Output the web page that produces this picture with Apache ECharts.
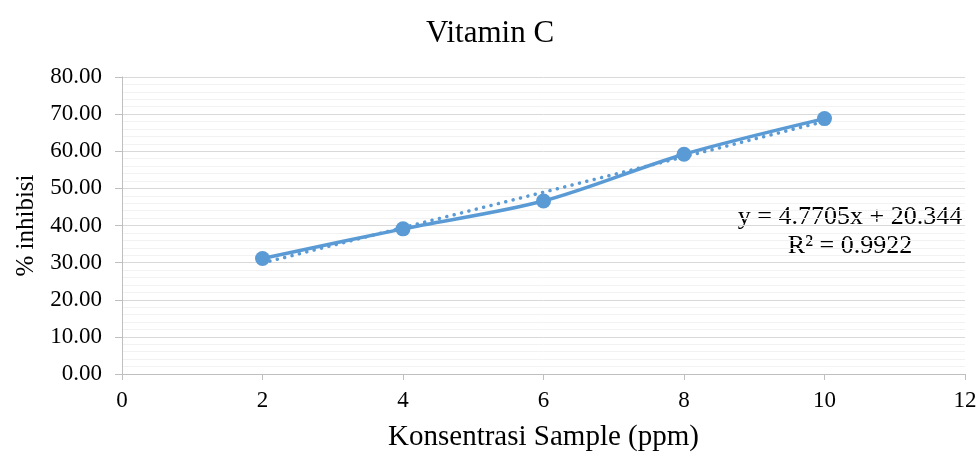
<!DOCTYPE html>
<html><head><meta charset="utf-8">
<script src="https://cdn.jsdelivr.net/npm/echarts@6/dist/echarts.min.js"></script>
<style>html,body{margin:0;padding:0;background:#fff}#c{width:980px;height:457px}</style>
</head><body><div id="c"></div>
<script>
var concentrations = [2, 4, 6, 8, 10];
var inhibition = [31.1, 39.1, 46.6, 59.2, 68.8];
var trendX = [2, 10];
var trendY = [29.89, 68.05];
var equationText = 'y = 4.7705x + 20.344';
var r2Text = 'R² = 0.9922';
var titleText = 'Vitamin C';
var xName = 'Konsentrasi Sample (ppm)';
var yName = '% inhibisi';

var font = 'Liberation Serif, Times New Roman, serif';
var chart = echarts.init(document.getElementById('c'));
chart.setOption({
  animation: false,
  title: {text: titleText, left: 'center', top: 13, textStyle: {fontFamily: font, fontSize: 31, fontWeight: 'normal', color: '#000'}},
  grid: {left: 122, right: 15, top: 77, bottom: 81},
  xAxis: {
    type: 'value', min: 0, max: 12, interval: 2,
    name: xName, nameLocation: 'middle', nameGap: 49,
    nameTextStyle: {fontFamily: font, fontSize: 29, color: '#000'},
    axisLine: {show: true, onZero: false, lineStyle: {color: '#bfbfbf', width: 1}},
    axisTick: {show: true, length: 6, lineStyle: {color: '#bfbfbf'}},
    axisLabel: {fontFamily: font, fontSize: 23, color: '#000', margin: 15},
    splitLine: {show: false}
  },
  yAxis: {
    type: 'value', min: 0, max: 80, interval: 10,
    name: yName, nameLocation: 'middle', nameGap: 83, nameRotate: 90,
    nameTextStyle: {fontFamily: font, fontSize: 25, color: '#000'},
    axisLine: {show: true, lineStyle: {color: '#bfbfbf', width: 1}},
    axisTick: {show: true, length: 7, lineStyle: {color: '#bfbfbf'}},
    axisLabel: {fontFamily: font, fontSize: 23, color: '#000', margin: 20, formatter: function(v){return v.toFixed(2);}},
    splitLine: {show: true, lineStyle: {color: '#d9d9d9', width: 1}},
    minorTick: {show: false, splitNumber: 5},
    minorSplitLine: {show: true, lineStyle: {color: '#f2f2f2', width: 1}}
  },
  series: [
    {
      type: 'line', data: trendX.map(function(x, i){return [x, trendY[i]];}),
      symbol: 'none', lineStyle: {color: '#5b9bd5', width: 3.5, type: [0.1, 7.5], cap: 'round'}, z: 2
    },
    {
      type: 'line', data: concentrations.map(function(x, i){return [x, inhibition[i]];}),
      smooth: 0.3, symbol: 'circle', symbolSize: 15,
      lineStyle: {color: '#5b9bd5', width: 3.5}, itemStyle: {color: '#5b9bd5'}, z: 3
    }
  ],
  graphic: [
    {type: 'text', x: 850, y: 217, style: {text: equationText, fontFamily: font, fontSize: 26, fill: '#000', align: 'center', verticalAlign: 'middle'}},
    {type: 'text', x: 850, y: 246, style: {text: r2Text, fontFamily: font, fontSize: 26, fill: '#000', align: 'center', verticalAlign: 'middle'}}
  ]
});
</script></body></html>
